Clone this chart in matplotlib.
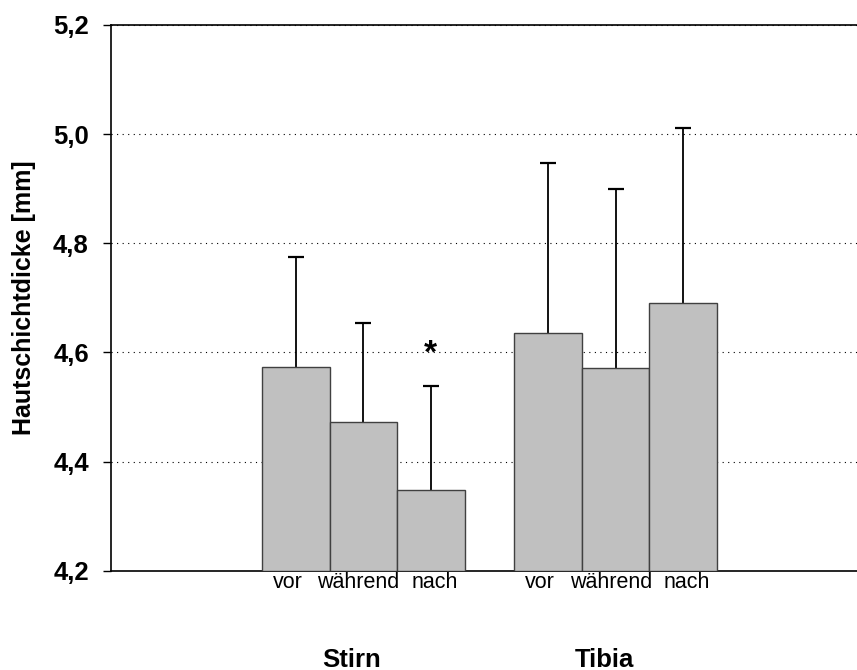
import matplotlib
matplotlib.use("Agg")
import matplotlib.pyplot as plt
import matplotlib.transforms as mtransforms
import numpy as np

plt.rcParams['font.family'] = ['Liberation Sans', 'DejaVu Sans']

# data
groups = ['Stirn', 'Tibia']
phases = ['vor', 'während', 'nach']
means = [[4.573, 4.473, 4.347],
         [4.635, 4.571, 4.690]]
sd_upper = [[4.775, 4.653, 4.539],
            [4.948, 4.900, 5.011]]
significant = [[False, False, True],
               [False, False, False]]

fig = plt.figure(figsize=(8.57, 6.70), dpi=100)
ax = fig.add_axes([111 / 857, 1 - 570.7 / 670, 1 - 111 / 857, 545.7 / 670])

group_starts = [2.237, 5.975]
width = 1.0
tick_pos = []
tick_lab = []
group_centers = []
for g, start in enumerate(group_starts):
    x = start + width / 2 + np.arange(len(phases)) * width
    m = np.array(means[g])
    top = np.array(sd_upper[g])
    ax.bar(x, m - 4.2, width=width, bottom=4.2, color='#c0c0c0',
           edgecolor='#404040', linewidth=1.0, zorder=3)
    # only the upper half of the error bar, with a cap
    ax.vlines(x, m, top, color='black', linewidth=1.3, zorder=2)
    ax.plot(x, top, linestyle='none', marker='_', markersize=12,
            markeredgewidth=1.6, color='black', zorder=2)
    for i in range(len(phases)):
        if significant[g][i]:
            ax.text(x[i], 4.597, '*', ha='center', va='center',
                    fontsize=24, fontweight='bold', zorder=4)
    tick_pos += list(x)
    tick_lab += phases
    group_centers.append(x.mean() - 0.17)

ax.set_xlim(0, 11.05)
ax.set_ylim(4.2, 5.2)
ax.set_yticks([4.2, 4.4, 4.6, 4.8, 5.0, 5.2])
ax.set_yticklabels(['4,2', '4,4', '4,6', '4,8', '5,0', '5,2'],
                   fontsize=18.5, fontweight='bold')
ax.set_xticks(tick_pos)
ax.set_xticklabels(tick_lab, fontsize=15.5)
ax.tick_params(axis='x', length=0, pad=1)
ax.tick_params(axis='y', length=6, width=1, pad=10)

# the words sit slightly spread out, like in the original
shifts = [-6, -3.5, 2.5] * 2
for lab, dx in zip(ax.get_xticklabels(), shifts):
    lab.set_transform(lab.get_transform() +
                      mtransforms.ScaledTranslation(dx / 72, 0, fig.dpi_scale_trans))

for yv in [4.4, 4.6, 4.8, 5.0, 5.2]:
    ax.axhline(yv, color='black', linestyle=(0, (1, 4)), linewidth=0.8, zorder=1)

ax.spines['right'].set_visible(False)
for s in ['left', 'bottom', 'top']:
    ax.spines[s].set_linewidth(1.2)

ax.set_ylabel('Hautschichtdicke [mm]', fontsize=18, fontweight='bold', labelpad=12)

trans = mtransforms.blended_transform_factory(ax.transData, fig.transFigure)
for gx, name in zip(group_centers, groups):
    ax.text(gx, 1 - 666.7 / 670, name, transform=trans, ha='center',
            va='baseline', fontsize=18.5, fontweight='bold')

fig.savefig('out.png', dpi=100)
